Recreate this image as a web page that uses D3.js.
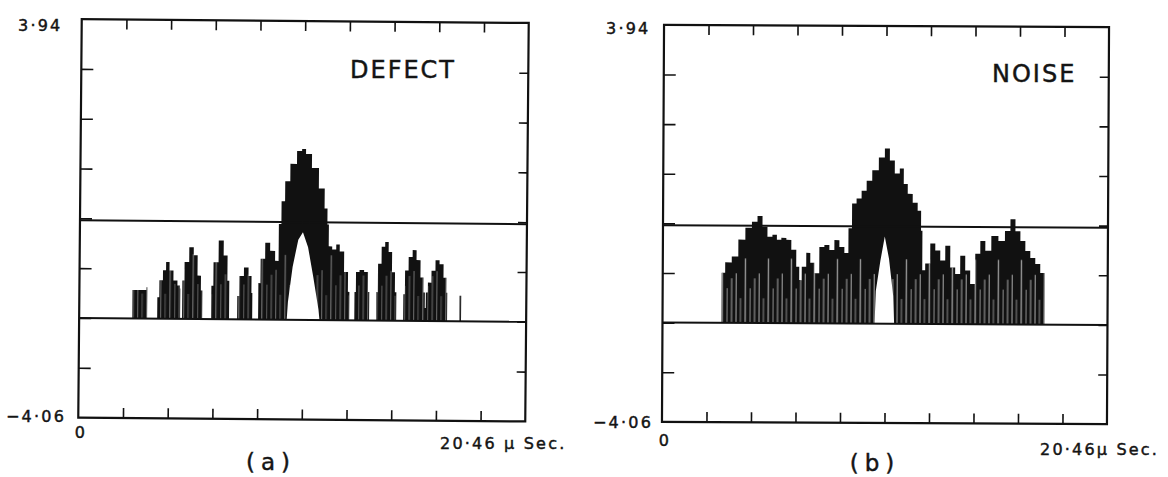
<!DOCTYPE html>
<html>
<head>
<meta charset="utf-8">
<script src="https://cdn.jsdelivr.net/npm/d3@7"></script>
<style>
  body { margin: 0; background: #fff; }
  svg { display: block; }
  text { font-family: "DejaVu Sans", sans-serif; fill: #141414; stroke: #141414; stroke-width: 0.45; }
</style>
</head>
<body>
<svg id="chart" width="1168" height="477"></svg>
<script>
// axis ranges (volts / micro seconds)
const yMin = -4.06, yMax = 3.94, tMax = 20.46
const baseline = -2.06, threshold = -0.1

const yTicks = [-3.06, -2.06, -1.06, -0.06, 0.94, 1.94, 2.94]
const xTicks = [2.046, 4.092, 6.138, 8.184, 10.23, 12.276, 14.322, 16.368, 18.414]

// (a) defect echo: upper envelope of the rectified trace
const defectT = [2.43, 2.43, 3.07, 3.07, 3.11, 3.11,
  3.57, 3.57, 3.75, 3.89, 4.03, 4.21, 4.39, 4.58, 4.62, 4.62,
  4.71, 4.71, 4.90, 5.13, 5.31, 5.49, 5.63, 5.63,
  6.04, 6.04, 6.22, 6.50, 6.68, 6.86, 6.86,
  7.23, 7.23, 7.41, 7.64, 7.83, 7.92, 7.92,
  8.19, 8.19, 8.38, 8.60, 8.83, 9.06,
  9.15, 9.29, 9.47, 9.75, 10.07, 10.21, 10.43, 10.76, 11.08, 11.30, 11.35, 11.44,
  11.67, 11.81, 11.99, 12.22, 12.36, 12.36,
  12.59, 12.59, 12.72, 12.91, 13.14, 13.27, 13.27,
  13.59, 13.59, 13.73, 13.91, 14.05, 14.23, 14.37, 14.51, 14.51,
  14.83, 14.83, 14.97, 15.15, 15.33, 15.51, 15.70, 15.79,
  15.84, 15.88, 16.02, 16.20, 16.38, 16.57, 16.75, 16.84, 16.84,
  17.40, 17.40, 17.48, 17.48]
const defectV = [-2.06, -1.49, -1.49, -1.43, -1.43, -2.06,
  -2.06, -1.63, -1.29, -1.09, -0.92, -1.09, -1.29, -1.39, -1.45, -2.06,
  -2.06, -1.29, -0.92, -0.62, -0.78, -1.19, -1.49, -2.06,
  -2.06, -1.39, -0.92, -0.48, -0.78, -1.29, -2.06,
  -2.06, -1.59, -1.19, -1.02, -1.19, -1.53, -2.06,
  -2.06, -1.33, -0.84, -0.52, -0.68, -0.88,
  -0.14, 0.32, 0.72, 1.07, 1.33, 1.37, 1.27, 0.99, 0.58, 0.18, -0.14, -0.58,
  -0.64, -0.54, -0.68, -1.09, -1.49, -2.06,
  -2.06, -1.49, -1.09, -1.05, -1.09, -1.49, -2.06,
  -2.06, -1.49, -0.92, -0.58, -0.48, -0.68, -1.09, -1.49, -2.06,
  -2.06, -1.53, -1.05, -0.78, -0.64, -0.84, -1.19, -1.49,
  -1.80, -1.49, -1.29, -1.05, -0.84, -0.92, -1.19, -1.49, -2.06,
  -2.06, -1.55, -1.55, -2.06]
// lower envelope under the main lobe (white hollow)
const defectHollowT = [9.50, 9.55, 9.75, 10.00, 10.21, 10.45, 10.70, 10.95, 11.00]
const defectHollowV = [-2.06, -1.70, -1.00, -0.45, -0.30, -0.60, -1.20, -1.85, -2.06]

// (b) noise
const noiseT = [2.71, 2.71, 3.03, 3.31, 3.63, 3.95, 4.23, 4.46, 4.69, 4.92,
  5.15, 5.33, 5.56, 5.79, 6.02, 6.25, 6.30, 6.48, 6.71, 6.85,
  7.08, 7.31, 7.54, 7.77, 8.00, 8.23, 8.46, 8.60, 8.78, 9.01,
  9.24, 9.47, 9.75, 10.07, 10.30, 10.53, 10.76, 10.99, 11.13, 11.36,
  11.59, 11.82, 11.91, 11.95, 12.18, 12.41, 12.64, 12.87, 13.10, 13.33,
  13.56, 13.79, 14.02, 14.25, 14.48, 14.71, 14.94, 15.26, 15.59, 15.86,
  16.09, 16.32, 16.55, 16.78, 17.01, 17.24, 17.47, 17.56, 17.56]
const noiseV = [-2.06, -1.05, -0.84, -0.72, -0.38, -0.14, -0.02, 0.10, -0.12, -0.32,
  -0.28, -0.38, -0.34, -0.38, -0.58, -0.92, -1.19, -0.92, -0.64, -0.84,
  -1.05, -0.52, -0.48, -0.58, -0.38, -0.52, -0.64, -0.14, 0.36, 0.46,
  0.62, 0.82, 1.03, 1.29, 1.47, 1.23, 0.97, 1.07, 0.76, 0.56,
  0.38, 0.22, -0.18, -0.98, -0.84, -0.44, -0.58, -0.78, -0.48, -0.92,
  -1.05, -0.68, -0.98, -1.25, -0.64, -0.38, -0.58, -0.28, -0.38, -0.18,
  0.06, -0.18, -0.38, -0.58, -0.72, -0.84, -1.02, -1.02, -2.06]
const noiseHollowT = [9.75, 9.80, 10.00, 10.20, 10.40, 10.60, 10.65]
const noiseHollowV = [-2.06, -1.40, -0.80, -0.30, -0.75, -1.50, -2.06]

// white hairlines that give the trace its scanned texture (offset px, width px, height above baseline)
const stripeDx = [0, 4.5, 9, 14, 18.5]
const stripeW = [1, 0.8, 1.2, 0.8, 1]
const stripeH = [1.0, 0.5, 1.3, 0.7, 0.9]

const panels = [
  {
    key: "a", t: defectT, v: defectV, ht: defectHollowT, hv: defectHollowV,
    box: [80, 527, 21, 419.5], tilt: 0.5, stripeOpacity: 0.4,
    name: "DEFECT", nameX: 350, nameY: 78,
    labels: [
      { text: "3·94", x: 18, y: 31 },
      { text: "−4·06", x: 6, y: 422 },
      { text: "0", x: 81, y: 438, anchor: "middle" },
      { text: "20·46 μ Sec.", x: 440, y: 449 },
      { text: "(a)", x: 271, y: 470, anchor: "middle", size: 23, spacing: 6 }
    ]
  },
  {
    key: "b", t: noiseT, v: noiseV, ht: noiseHollowT, hv: noiseHollowV,
    box: [663, 1108, 26, 423], tilt: 0.3, stripeOpacity: 0.65,
    name: "NOISE", nameX: 992, nameY: 82,
    labels: [
      { text: "3·94", x: 606, y: 34 },
      { text: "−4·06", x: 593, y: 428 },
      { text: "0", x: 665, y: 446, anchor: "middle" },
      { text: "20·46μ Sec.", x: 1040, y: 455 },
      { text: "(b)", x: 875, y: 471, anchor: "middle", size: 23, spacing: 6 }
    ]
  }
]

const svg = d3.select("#chart")
const defs = svg.append("defs")

panels.forEach(p => {
  const [x0, x1, y0, y1] = p.box
  const x = d3.scaleLinear([0, tMax], [x0, x1])
  const y = d3.scaleLinear([yMin, yMax], [y1, y0])
  const cx = (x0 + x1) / 2, cy = (y0 + y1) / 2

  // stripe texture for this panel
  const pat = defs.append("pattern")
    .attr("id", "stripes" + p.key)
    .attr("patternUnits", "userSpaceOnUse")
    .attr("width", 23).attr("height", 477)
  stripeDx.forEach((dx, i) => {
    pat.append("rect")
      .attr("x", dx).attr("width", stripeW[i])
      .attr("y", y(baseline + stripeH[i]))
      .attr("height", y(baseline) - y(baseline + stripeH[i]))
      .attr("fill", "#fff")
      .attr("opacity", p.stripeOpacity)
  })

  const g = svg.append("g").attr("transform", `rotate(${p.tilt},${cx},${cy})`)

  const area = d3.area()
    .x(d => x(d[0]))
    .y0(y(baseline))
    .y1(d => y(d[1]))
    .curve(d3.curveStep)

  const trace = d3.zip(p.t, p.v)
  g.append("path").attr("d", area(trace)).attr("fill", "#111")
  g.append("path").attr("d", area(trace)).attr("fill", `url(#stripes${p.key})`)
  g.append("path").attr("d", area.curve(d3.curveLinear)(d3.zip(p.ht, p.hv))).attr("fill", "#fff")

  // baseline and threshold
  ;[baseline, threshold].forEach(lv => {
    g.append("line")
      .attr("x1", x0).attr("x2", x1)
      .attr("y1", y(lv)).attr("y2", y(lv))
      .attr("stroke", "#111").attr("stroke-width", 2)
  })

  // ticks pointing inward on all four sides
  const tickStyle = sel => {
    sel.select(".domain").remove()
    sel.selectAll(".tick line").attr("stroke", "#111").attr("stroke-width", 1.6)
  }
  g.append("g").attr("transform", `translate(0,${y0})`)
    .call(d3.axisTop(x).tickValues(xTicks).tickSize(-10).tickFormat("")).call(tickStyle)
  g.append("g").attr("transform", `translate(0,${y1})`)
    .call(d3.axisBottom(x).tickValues(xTicks).tickSize(-10).tickFormat("")).call(tickStyle)
  g.append("g").attr("transform", `translate(${x0},0)`)
    .call(d3.axisLeft(y).tickValues(yTicks).tickSize(-12).tickFormat("")).call(tickStyle)
  g.append("g").attr("transform", `translate(${x1},0)`)
    .call(d3.axisRight(y).tickValues(yTicks).tickSize(-9).tickFormat("")).call(tickStyle)

  g.append("rect")
    .attr("x", x0).attr("y", y0)
    .attr("width", x1 - x0).attr("height", y1 - y0)
    .attr("fill", "none").attr("stroke", "#111").attr("stroke-width", 2.2)

  svg.append("text")
    .attr("x", p.nameX).attr("y", p.nameY)
    .attr("font-size", 24).attr("letter-spacing", 2)
    .text(p.name)

  p.labels.forEach(l => {
    svg.append("text")
      .attr("x", l.x).attr("y", l.y)
      .attr("text-anchor", l.anchor || "start")
      .attr("font-size", l.size || 16)
      .attr("letter-spacing", l.spacing != null ? l.spacing : 2.2)
      .text(l.text)
  })
})
</script>
</body>
</html>
